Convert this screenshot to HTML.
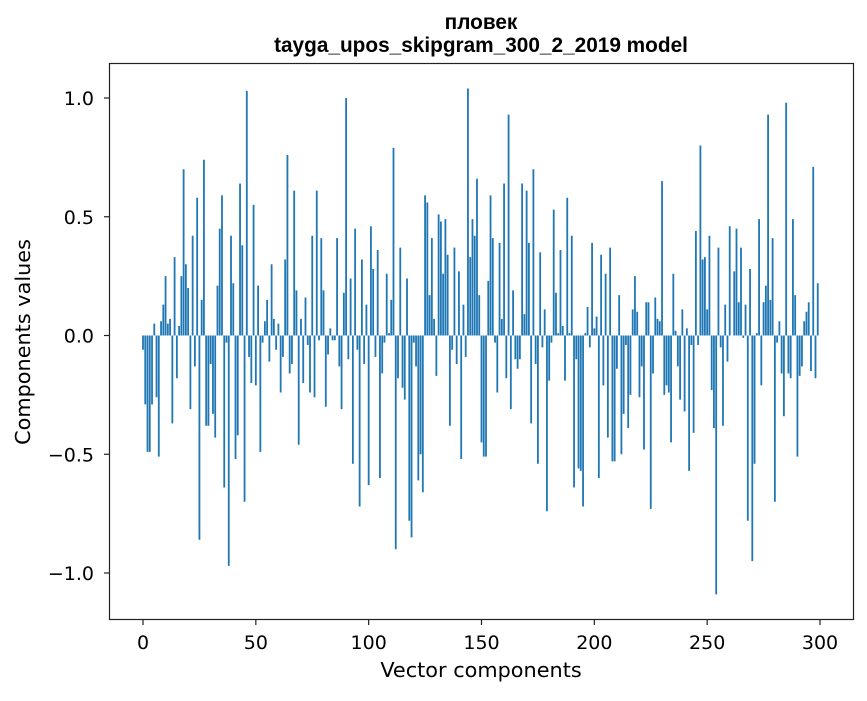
<!DOCTYPE html>
<html><head><meta charset="utf-8"><style>
html,body{margin:0;padding:0;background:#fff;}
svg text{font-family:"DejaVu Sans","Liberation Sans",sans-serif;fill:#000;}
svg text.title{font-family:"Liberation Sans","DejaVu Sans",sans-serif;}
</style></head><body>
<svg id="chart" width="867" height="696" xmlns="http://www.w3.org/2000/svg">
<text class="title" x="481" y="29" text-anchor="middle" font-size="20.8" font-weight="bold">пловек</text>
<text class="title" x="481" y="52" text-anchor="middle" font-size="20.8" font-weight="bold">tayga_upos_skipgram_300_2_2019 model</text>
<g id="bars"></g>
<rect x="109.5" y="63.5" width="744" height="556" fill="none" stroke="#222" stroke-width="1.2"/>
<g id="xticks"></g>
<g id="yticks"></g>
<text x="481" y="677" text-anchor="middle" font-size="20.8">Vector components</text>
<text transform="translate(30,342) rotate(-90)" text-anchor="middle" font-size="20.8">Components values</text>
</svg>
<script>
const values = [
-0.06,-0.29,-0.49,-0.49,-0.29,0.05,-0.26,-0.51,0.06,0.13,
0.25,0.05,0.07,-0.37,0.33,-0.18,0.04,0.25,0.70,0.30,
0.20,-0.31,0.42,-0.13,0.58,-0.86,0.15,0.74,-0.38,-0.38,
-0.12,-0.33,-0.43,0.21,0.45,0.59,-0.64,-0.03,-0.97,0.42,
0.22,-0.52,-0.42,0.64,0.38,-0.70,1.03,-0.09,-0.20,0.55,
-0.21,0.21,-0.49,-0.03,0.06,0.15,-0.11,0.30,0.07,-0.06,
0.05,-0.24,-0.09,0.32,0.76,-0.16,-0.12,0.61,0.19,-0.46,
0.07,-0.20,0.16,-0.04,-0.24,0.42,-0.26,0.61,-0.02,0.41,
0.19,-0.30,-0.08,0.03,-0.02,-0.02,0.41,-0.13,-0.31,0.18,
1.00,-0.10,0.24,-0.54,0.45,-0.06,-0.72,0.32,-0.12,0.13,
-0.63,0.46,0.28,-0.09,0.36,-0.60,-0.16,-0.03,0.26,0.01,
0.15,0.79,-0.90,-0.18,0.37,-0.22,-0.27,0.24,-0.78,-0.85,
-0.03,-0.13,-0.61,-0.50,-0.66,0.59,0.56,0.17,0.41,0.07,
-0.17,0.51,0.48,0.26,0.49,0.34,-0.38,-0.06,0.37,-0.12,
0.27,-0.52,0.13,-0.09,1.04,0.33,0.49,0.42,0.66,0.17,
-0.45,-0.51,-0.51,0.23,0.59,0.41,-0.03,-0.24,0.39,0.07,
0.64,-0.18,0.93,-0.31,0.19,-0.10,-0.14,-0.10,0.64,0.09,
0.61,0.39,-0.37,0.70,-0.12,-0.54,0.35,-0.05,0.11,-0.74,
-0.19,-0.03,0.53,0.18,0.01,0.36,0.04,-0.19,0.58,0.01,
0.42,-0.64,-0.10,-0.56,-0.57,-0.72,0.01,0.12,-0.05,0.39,
0.03,0.08,-0.60,0.34,-0.21,0.26,-0.43,0.37,-0.53,-0.53,
-0.14,0.17,-0.50,-0.33,-0.04,-0.39,-0.25,0.11,0.25,0.10,
-0.26,-0.13,-0.48,0.14,0.14,-0.73,-0.16,0.16,0.07,0.06,
0.65,-0.25,-0.21,-0.24,-0.45,0.26,0.02,-0.13,-0.27,0.11,
-0.32,0.03,-0.57,-0.04,-0.41,0.44,-0.04,0.80,0.32,0.33,
0.11,0.42,-0.23,-0.39,-1.09,0.37,-0.05,-0.38,0.13,-0.11,
0.46,0.00,0.27,0.45,0.14,0.37,-0.01,0.13,-0.78,0.28,
-0.95,-0.54,0.01,0.49,-0.21,0.14,0.21,0.93,0.15,0.41,
-0.70,-0.03,0.06,-0.16,-0.34,0.98,-0.16,-0.18,0.49,0.17,
-0.51,-0.17,-0.13,0.06,0.10,0.14,-0.15,0.71,-0.18,0.22
];
const xTicks = [0,50,100,150,200,250,300];
const yTicks = [-1.0,-0.5,0.0,0.5,1.0];
const yTickLabels = ["\u22121.0","\u22120.5","0.0","0.5","1.0"];

const NS = "http://www.w3.org/2000/svg";
function xScale(v){ return 143 + v * (677/300); }
function yScale(v){ return 335.5 - v * 237.5; }

const barsG = document.getElementById('bars');
values.forEach(function(v, i){
  const r = document.createElementNS(NS, 'rect');
  const x0 = xScale(i - 0.4), x1 = xScale(i + 0.4);
  const y0 = yScale(Math.max(v, 0)), y1 = yScale(Math.min(v, 0));
  r.setAttribute('x', x0);
  r.setAttribute('width', x1 - x0);
  r.setAttribute('y', y0);
  r.setAttribute('height', Math.max(y1 - y0, 0));
  r.setAttribute('fill', '#1f77b4');
  
  
  barsG.appendChild(r);
});

const xg = document.getElementById('xticks');
xTicks.forEach(function(t){
  const x = xScale(t);
  const l = document.createElementNS(NS, 'line');
  l.setAttribute('x1', x); l.setAttribute('x2', x);
  l.setAttribute('y1', 619.5); l.setAttribute('y2', 625);
  l.setAttribute('stroke', '#222');
  l.setAttribute('stroke-width', '1.2');
  
  
  xg.appendChild(l);
  const tx = document.createElementNS(NS, 'text');
  tx.setAttribute('x', x); tx.setAttribute('y', 649);
  tx.setAttribute('text-anchor', 'middle');
  tx.setAttribute('font-size', '19');
  tx.textContent = String(t);
  
  
  xg.appendChild(tx);
});

const yg = document.getElementById('yticks');
yTicks.forEach(function(t, i){
  const y = yScale(t);
  const l = document.createElementNS(NS, 'line');
  l.setAttribute('x1', 104); l.setAttribute('x2', 109.5);
  l.setAttribute('y1', y); l.setAttribute('y2', y);
  l.setAttribute('stroke', '#222');
  l.setAttribute('stroke-width', '1.2');
  
  
  yg.appendChild(l);
  const tx = document.createElementNS(NS, 'text');
  tx.setAttribute('x', 94); tx.setAttribute('y', y + 7);
  tx.setAttribute('text-anchor', 'end');
  tx.setAttribute('font-size', '19');
  tx.textContent = yTickLabels[i];
  
  
  yg.appendChild(tx);
});
</script>
</body></html>
